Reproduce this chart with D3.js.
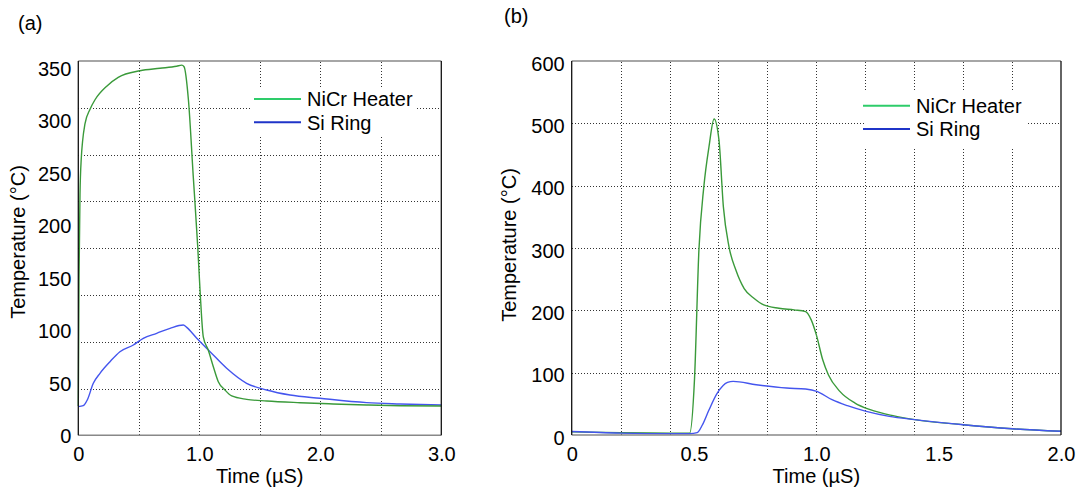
<!DOCTYPE html>
<html>
<head>
<meta charset="utf-8">
<script src="https://cdn.jsdelivr.net/npm/d3@7/dist/d3.min.js"></script>
<style>
  html, body { margin: 0; padding: 0; background: #fff; }
  svg { display: block; font-family: "Liberation Sans", Arial, sans-serif; }
</style>
</head>
<body>
<svg id="chart" width="1086" height="494"></svg>
<script>
// ---------------- DATA ----------------
const seriesNames = ["NiCr Heater", "Si Ring"];

// Panel (a): time in µs, temperature in °C
const aHeaterTime = [0, 0.006, 0.014, 0.025, 0.035, 0.055, 0.097, 0.138, 0.235, 0.33, 0.51, 0.675, 0.813, 0.855, 0.874, 0.91, 0.95, 0.987, 1.006, 1.033, 1.074, 1.116, 1.157, 1.212, 1.268, 1.391, 1.557, 1.833, 2.105, 2.383, 2.66, 3.0];
const aHeaterTemp = [28, 150, 230, 265, 280, 297, 311, 320, 333, 341.4, 347.7, 350, 352, 353, 351.5, 320, 247, 180, 138.6, 94, 81.4, 65.5, 51.2, 43.3, 37.6, 34.4, 32.8, 31.2, 30, 29, 28.3, 28];
const aRingTime = [0, 0.041, 0.074, 0.124, 0.179, 0.262, 0.344, 0.455, 0.537, 0.648, 0.758, 0.868, 0.896, 0.979, 1.089, 1.226, 1.391, 1.557, 1.75, 1.997, 2.383, 2.66, 3.0];
const aRingTemp = [27.4, 28.3, 33.7, 49.7, 59.2, 70.3, 79.8, 86.2, 92.6, 97.3, 102.1, 105.3, 103, 92.6, 79.8, 64, 49.7, 43.3, 38.5, 35.4, 31.2, 30, 29];
const aXTicks = [0, 1.0, 2.0, 3.0];
const aXTickLabels = ["0", "1.0", "2.0", "3.0"];
const aYTicks = [0, 50, 100, 150, 200, 250, 300, 350];
const aXGrid = [0.5, 1.0, 1.5, 2.0, 2.5];
const aYGridCount = 8;   // gridlines divide the frame into 8 equal bands

// Panel (b)
const bHeaterTime = [0, 0.2, 0.4, 0.482, 0.502, 0.52, 0.54, 0.561, 0.582, 0.602, 0.62, 0.643, 0.671, 0.705, 0.746, 0.785, 0.847, 0.909, 0.956, 0.979, 1.0, 1.026, 1.049, 1.096, 1.158, 1.22, 1.313, 1.402, 1.6, 1.8, 2.0];
const bHeaterTemp = [5, 3.5, 3, 2.7, 90, 297, 398, 462, 507, 473, 366, 302, 264.7, 235, 219, 208.7, 203.4, 200.7, 198, 184.7, 160.7, 120.6, 96.6, 70, 51.2, 40.6, 31, 24.6, 16.5, 10.1, 5.9];
const bRingTime = [0, 0.2, 0.4, 0.482, 0.513, 0.534, 0.561, 0.595, 0.637, 0.66, 0.754, 0.878, 0.956, 1.002, 1.064, 1.127, 1.204, 1.298, 1.402, 1.6, 1.8, 2.0];
const bRingTemp = [5.5, 3, 2, 2, 3.7, 16, 40, 67, 84.3, 86, 80.6, 75.3, 73.7, 70, 56.6, 47, 37.9, 29.9, 24.6, 16.5, 10.1, 5.9];
const bXTicks = [0, 0.5, 1.0, 1.5, 2.0];
const bXTickLabels = ["0", "0.5", "1.0", "1.5", "2.0"];
const bYTicks = [0, 100, 200, 300, 400, 500, 600];
const bXGrid = [0.2, 0.4, 0.6, 0.8, 1.0, 1.2, 1.4, 1.6, 1.8];
const bYGrid = [100, 200, 300, 400, 500];

// ---------------- STYLE ----------------
const C_HEATER = "#3a9a3a", C_RING = "#4455ee";
const C_HEATER_LEG = "#2ecc6a", C_RING_LEG = "#1f34c8";
const FONT = 20;

const svg = d3.select("#chart");

function panel(cfg) {
  const g = svg.append("g");
  const x = d3.scaleLinear().domain(cfg.xDomain).range([cfg.left, cfg.right]);
  const y = d3.scaleLinear().domain(cfg.yLabelDomain).range(cfg.yLabelRange);
  const yg = d3.scaleLinear().domain(cfg.yGridDomain).range([cfg.bottom, cfg.top]);
  const w = cfg.right - cfg.left, h = cfg.bottom - cfg.top;

  // grid
  const gridStyle = sel => sel.attr("stroke", "#333").attr("stroke-width", 1)
    .attr("stroke-dasharray", "1,2").attr("shape-rendering", "crispEdges");
  g.append("g").attr("transform", `translate(0,${cfg.bottom})`)
    .call(d3.axisBottom(x).tickValues(cfg.xGrid).tickSize(-h).tickFormat(""))
    .call(a => a.select(".domain").remove())
    .call(a => a.selectAll("line").call(gridStyle));
  g.append("g").attr("transform", `translate(${cfg.left},0)`)
    .call(d3.axisLeft(yg).tickValues(cfg.yGrid).tickSize(-w).tickFormat(""))
    .call(a => a.select(".domain").remove())
    .call(a => a.selectAll("line").call(gridStyle));

  // legend background
  g.append("rect").attr("x", cfg.legBox[0]).attr("y", cfg.legBox[1])
    .attr("width", cfg.legBox[2]).attr("height", cfg.legBox[3]).attr("fill", "#fff");

  // curves
  const line = d3.line().x(d => x(d[0])).y(d => y(d[1])).curve(d3.curveMonotoneX);
  const ringData = d3.zip(cfg.ringT, cfg.ringV);
  const heatData = d3.zip(cfg.heatT, cfg.heatV);
  const order = cfg.heaterOnTop ? [[ringData, C_RING], [heatData, C_HEATER]] : [[heatData, C_HEATER], [ringData, C_RING]];
  order.forEach(([d, c]) => {
    g.append("path").datum(d).attr("d", line).attr("fill", "none")
      .attr("stroke", c).attr("stroke-width", 1.4).attr("stroke-linejoin", "round");
  });

  // frame
  g.append("line").attr("x1", cfg.left).attr("x2", cfg.right).attr("y1", cfg.top).attr("y2", cfg.top).attr("stroke", "#888").attr("stroke-width", 1.5);
  g.append("line").attr("x1", cfg.left).attr("x2", cfg.right).attr("y1", cfg.bottom).attr("y2", cfg.bottom).attr("stroke", "#888").attr("stroke-width", 1.5);
  g.append("line").attr("x1", cfg.left).attr("x2", cfg.left).attr("y1", cfg.top).attr("y2", cfg.bottom).attr("stroke", "#111").attr("stroke-width", 1.3);
  g.append("line").attr("x1", cfg.right).attr("x2", cfg.right).attr("y1", cfg.top).attr("y2", cfg.bottom).attr("stroke", "#111").attr("stroke-width", 1.3);

  // tick labels
  g.append("g").attr("transform", `translate(0,${cfg.bottom})`)
    .call(d3.axisBottom(x).tickValues(cfg.xTicks).tickSize(0).tickPadding(12)
      .tickFormat((d, i) => cfg.xTickLabels[i]))
    .call(a => a.select(".domain").remove())
    .call(a => a.selectAll("text").attr("font-size", FONT).attr("fill", "#000")
      .attr("font-family", "Liberation Sans, Arial, sans-serif"));
  g.append("g").attr("transform", `translate(${cfg.left},0)`)
    .call(d3.axisLeft(y).tickValues(cfg.yTicks).tickSize(0).tickPadding(7).tickFormat(d3.format("d")))
    .call(a => a.select(".domain").remove())
    .call(a => a.selectAll("text").attr("font-size", FONT).attr("fill", "#000")
      .attr("dy", cfg.yDy).attr("font-family", "Liberation Sans, Arial, sans-serif"));

  // axis titles
  g.append("text").attr("x", (cfg.left + cfg.right) / 2).attr("y", 483)
    .attr("text-anchor", "middle").attr("font-size", FONT).text("Time (µS)");
  g.append("text").attr("transform", `translate(${cfg.yTitleX},${cfg.yTitleY}) rotate(-90)`)
    .attr("text-anchor", "middle").attr("font-size", FONT).text("Temperature (°C)");

  // panel label
  g.append("text").attr("x", cfg.panelLabel[1]).attr("y", cfg.panelLabel[2])
    .attr("font-size", FONT).text(cfg.panelLabel[0]);

  // legend
  const legColors = [C_HEATER_LEG, C_RING_LEG];
  seriesNames.forEach((n, i) => {
    const ly = cfg.legY[i];
    g.append("line").attr("x1", cfg.legX).attr("x2", cfg.legX + 47).attr("y1", ly).attr("y2", ly)
      .attr("stroke", legColors[i]).attr("stroke-width", 2);
    g.append("text").attr("x", cfg.legX + 53).attr("y", ly).attr("dy", "0.36em")
      .attr("font-size", FONT).text(n);
  });
}

panel({
  left: 78.3, right: 441.3, top: 61, bottom: 435.3,
  xDomain: [0, 3], yLabelDomain: [0, 350], yLabelRange: [435.4, 68.3],
  yGridDomain: [0, aYGridCount], yGrid: d3.range(1, aYGridCount),
  xGrid: aXGrid, xTicks: aXTicks, xTickLabels: aXTickLabels, yTicks: aYTicks, yDy: "0.36em",
  heatT: aHeaterTime, heatV: aHeaterTemp, ringT: aRingTime, ringV: aRingTemp, heaterOnTop: true,
  legBox: [252, 88, 165, 49], legX: 254, legY: [99, 122.3],
  yTitleX: 25, yTitleY: 242, panelLabel: ["(a)", 18, 30]
});

panel({
  left: 571.7, right: 1061, top: 61, bottom: 435,
  xDomain: [0, 2], yLabelDomain: [0, 600], yLabelRange: [435, 61],
  yGridDomain: [0, 600], yGrid: bYGrid,
  xGrid: bXGrid, xTicks: bXTicks, xTickLabels: bXTickLabels, yTicks: bYTicks, yDy: "0.45em",
  heatT: bHeaterTime, heatV: bHeaterTemp, ringT: bRingTime, ringV: bRingTemp, heaterOnTop: false,
  legBox: [864, 92, 163, 55], legX: 863, legY: [105.7, 129],
  yTitleX: 516, yTitleY: 245, panelLabel: ["(b)", 504, 23]
});
</script>
</body>
</html>
